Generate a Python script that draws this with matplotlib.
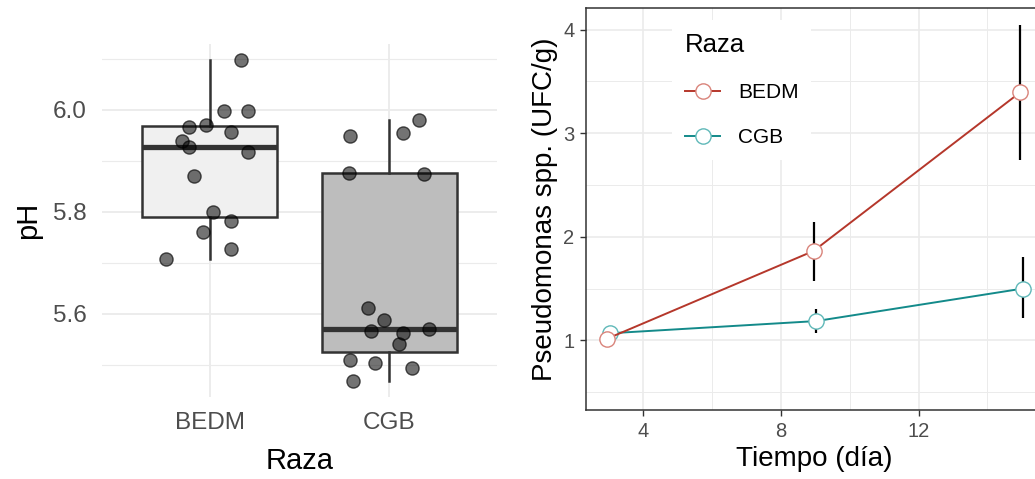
import numpy as np
import matplotlib
matplotlib.use("Agg")
import matplotlib.pyplot as plt
from matplotlib.lines import Line2D

plt.rcParams['font.family'] = ['Liberation Sans', 'DejaVu Sans']

# ---------------- data: left panel (pH by breed) ----------------
categories = ["BEDM", "CGB"]
ph_bedm = [6.097, 5.998, 5.998, 5.966, 5.970, 5.956, 5.938, 5.928, 5.917,
           5.871, 5.799, 5.782, 5.760, 5.728, 5.707]
jit_bedm = [0.176, 0.078, 0.211, -0.118, -0.021, 0.121, -0.152, -0.117, 0.215,
            -0.085, 0.018, 0.121, -0.039, 0.117, -0.241]
ph_cgb = [5.980, 5.948, 5.954, 5.876, 5.875, 5.612, 5.587, 5.567, 5.562,
          5.571, 5.540, 5.509, 5.503, 5.494, 5.469]
jit_cgb = [0.168, -0.221, 0.079, -0.224, 0.193, -0.119, -0.028, -0.100, 0.079,
           0.221, 0.054, -0.217, -0.078, 0.129, -0.202]

# ---------------- data: right panel (Pseudomonas over time) ----------------
days = [3, 9, 15]
series_names = ["BEDM", "CGB"]
pseudo_bedm = [1.015, 1.863, 3.395]
err_lo_bedm = [1.015, 1.570, 2.742]
err_hi_bedm = [1.015, 2.147, 4.045]
pseudo_cgb = [1.068, 1.186, 1.500]
err_lo_cgb = [1.068, 1.068, 1.212]
err_hi_cgb = [1.068, 1.302, 1.800]

W, H = 1035, 479
fig = plt.figure(figsize=(W / 100, H / 100), dpi=100)

def fx(px):
    return px / W

def fy(py):
    return 1 - py / H

# ---------------- left axes ----------------
ax1 = fig.add_axes([fx(102), fy(397), fx(497 - 102), (397 - 44) / H])
grid_c = "#EBEBEB"

bp = ax1.boxplot([ph_bedm, ph_cgb], positions=[1, 2], widths=0.75,
                 whis=1.5, patch_artist=True, showfliers=False, showcaps=False,
                 zorder=2)
box_fills = ["#F0F0F0", "#BDBDBD"]
for patch, fc in zip(bp["boxes"], box_fills):
    patch.set_facecolor(fc)
    patch.set_edgecolor("#333333")
    patch.set_linewidth(1.8)
for w in bp["whiskers"]:
    w.set_color("#333333")
    w.set_linewidth(1.8)
for m in bp["medians"]:
    m.set_color("#333333")
    m.set_linewidth(3.8)

for i, (vals, jit) in enumerate([(ph_bedm, jit_bedm), (ph_cgb, jit_cgb)]):
    xs = np.array(jit) + (i + 1)
    ax1.scatter(xs, vals, s=90, facecolor=(0, 0, 0, 0.55),
                edgecolor=(0, 0, 0, 0.65), linewidth=1.0, zorder=3)

ax1.set_xlim(0.4, 2.6)
ax1.set_ylim(5.437, 6.129)
ax1.set_yticks([5.6, 5.8, 6.0])
ax1.set_yticks([5.5, 5.7, 5.9, 6.1], minor=True)
ax1.set_yticklabels(["5.6", "5.8", "6.0"])
ax1.set_xticks([1, 2])
ax1.set_xticklabels(categories)
ax1.grid(True, which="major", color=grid_c, lw=1.3, zorder=0)
ax1.grid(True, which="minor", axis="y", color=grid_c, lw=0.8, zorder=0)
for s in ax1.spines.values():
    s.set_visible(False)
ax1.tick_params(axis="both", which="both", length=0, labelsize=17.5,
                labelcolor="#4D4D4D")
ax1.tick_params(axis="y", pad=11)
ax1.tick_params(axis="x", pad=11)
ax1.set_axisbelow(True)

ax1.set_xlabel("Raza", fontsize=21, labelpad=9)
ax1.set_ylabel("pH", fontsize=21, labelpad=8)

# ---------------- right axes ----------------
ax2 = fig.add_axes([fx(586.3), fy(410), fx(1043.2 - 586.3), (410 - 8.3) / H])
ax2.set_xlim(2.35, 15.62)
ax2.set_ylim(0.327, 4.207)
ax2.set_xticks([4, 8, 12])
ax2.set_xticks([6, 10, 14], minor=True)
ax2.set_yticks([1, 2, 3, 4])
ax2.set_yticks([0.5, 1.5, 2.5, 3.5], minor=True)
ax2.grid(True, which="major", color=grid_c, lw=1.2, zorder=0)
ax2.grid(True, which="minor", color=grid_c, lw=0.7, zorder=0)
ax2.set_axisbelow(True)
for s in ax2.spines.values():
    s.set_color("#333333")
    s.set_linewidth(1.1)
ax2.tick_params(axis="both", which="major", length=4.5, width=1.0,
                color="#333333", labelsize=14.5, labelcolor="#4D4D4D", pad=4)
ax2.tick_params(axis="both", which="minor", length=0)

cols = {"BEDM": "#B5372B", "CGB": "#138A8A"}
edge_cols = {"BEDM": "#D9837A", "CGB": "#5FB8B8"}
dodge = {"BEDM": -0.05, "CGB": 0.03}
data = {
    "BEDM": (pseudo_bedm, err_lo_bedm, err_hi_bedm),
    "CGB": (pseudo_cgb, err_lo_cgb, err_hi_cgb),
}
order_z = {"CGB": 3, "BEDM": 4}
for name in ["CGB", "BEDM"]:
    y, lo, hi = data[name]
    xs = np.array(days) + dodge[name]
    ax2.vlines(xs, lo, hi, color="black", lw=1.6, zorder=2)
    ax2.plot(xs, y, color=cols[name], lw=1.4, zorder=order_z[name])
    ax2.plot(xs, y, ls="none", marker="o", ms=11, mfc="white",
             mec=edge_cols[name], mew=1.0, zorder=order_z[name] + 0.5)

ax2.set_xlabel("Tiempo (día)", fontsize=20, labelpad=4)
ax2.set_ylabel("Pseudomonas spp. (UFC/g)", fontsize=20, labelpad=4)

handles = [Line2D([0], [0], color=cols[n], lw=1.4, marker="o", ms=11,
                  mfc="white", mec=edge_cols[n], mew=1.0) for n in series_names]
leg = ax2.legend(handles, series_names, title="Raza", loc="upper left",
                 bbox_to_anchor=(fx(662), fy(10)), bbox_transform=fig.transFigure,
                 frameon=True, fancybox=False, fontsize=15, title_fontsize=18.5,
                 handlelength=1.7, handletextpad=0.85, labelspacing=1.25,
                 borderpad=0.6)
leg.get_frame().set_facecolor("white")
leg.get_frame().set_edgecolor("none")
leg.get_frame().set_alpha(1)
leg._legend_box.align = "left"

fig.savefig("out.png", dpi=100)
